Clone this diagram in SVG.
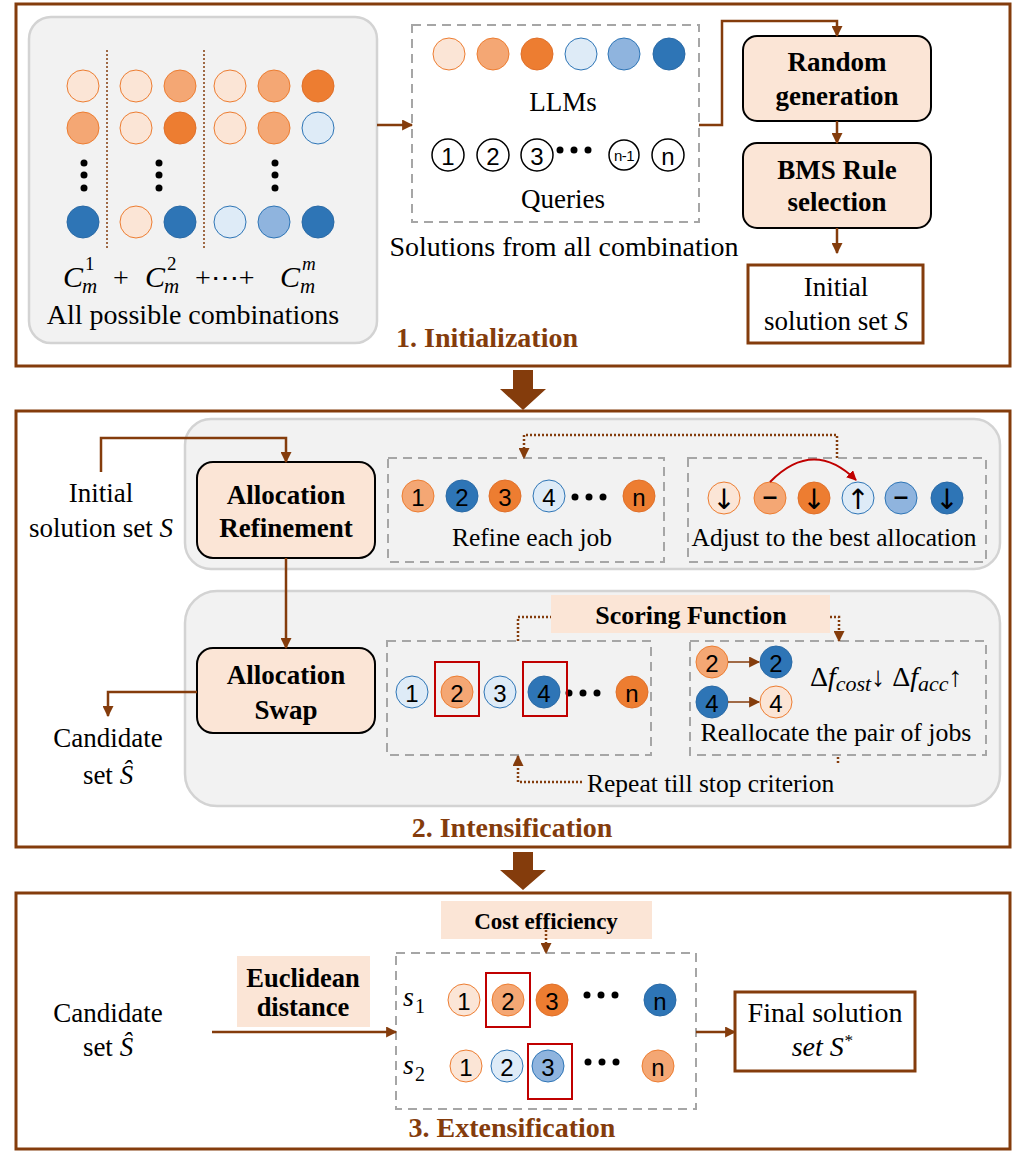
<svg xmlns="http://www.w3.org/2000/svg" width="1021" height="1153" viewBox="0 0 1021 1153">
<style>
.panel{fill:#fff;stroke:#843C0C;stroke-width:3}
.gray{fill:#F2F2F2;stroke:#D3D3D3;stroke-width:2.5}
.dash{fill:none;stroke:#A6A6A6;stroke-width:2;stroke-dasharray:9,6}
.node{fill:#FBE5D6;stroke:#000;stroke-width:2}
.out{fill:#fff;stroke:#843C0C;stroke-width:3}
.lbl{fill:#FBE5D6;stroke:none}
.lo{fill:#FBE5D6;stroke:#ED7D31;stroke-width:1}
.mo{fill:#F4A774;stroke:#ED7D31;stroke-width:1}
.do{fill:#ED7D31;stroke:#E0702A;stroke-width:1}
.lb{fill:#DEEBF7;stroke:#2E75B6;stroke-width:1}
.mb{fill:#8FB4DE;stroke:#2E75B6;stroke-width:1}
.db{fill:#2E75B6;stroke:#2A6AA6;stroke-width:1}
.q{fill:#fff;stroke:#000;stroke-width:1.5}
.t{font-family:"Liberation Serif",serif;font-size:27px;fill:#000}
.tb{font-family:"Liberation Serif",serif;font-size:27px;font-weight:bold;fill:#000;text-anchor:middle}
.ti{font-family:"Liberation Serif",serif;font-style:italic}
.sec{font-family:"Liberation Serif",serif;font-size:28px;font-weight:bold;fill:#843C0C;text-anchor:middle}
.d{font-family:"Liberation Sans",sans-serif;font-size:24px;fill:#000;text-anchor:middle;dominant-baseline:central}
.sym{font-family:"DejaVu Sans",sans-serif;font-size:28px;fill:#000;text-anchor:middle;dominant-baseline:central}
.dsh{font-family:"Liberation Sans",sans-serif;font-size:26px;font-weight:bold;fill:#000;text-anchor:middle;dominant-baseline:central}
.c{text-anchor:middle}
.br{fill:none;stroke:#843C0C;stroke-width:2.5}
.dot{fill:none;stroke:#843C0C;stroke-width:2.5;stroke-dasharray:2,2}
.blk{fill:#000}
.red{fill:none;stroke:#C00000;stroke-width:2}
</style>
<defs>
<marker id="ah" viewBox="0 0 10 10" markerWidth="11" markerHeight="11" markerUnits="userSpaceOnUse" refX="9" refY="5" orient="auto"><path d="M0,0 L10,5 L0,10 z" fill="#843C0C"/></marker>
<marker id="ahr" viewBox="0 0 10 10" markerWidth="10" markerHeight="10" markerUnits="userSpaceOnUse" refX="9" refY="5" orient="auto"><path d="M0,0 L10,5 L0,10 z" fill="#C00000"/></marker>
</defs>

<!-- Panels -->
<g id="panel1"><rect class="panel" x="16" y="4" width="994" height="362"/><text class="sec" x="487" y="347">1. Initialization</text></g>
<g id="panel2"><rect class="panel" x="16" y="411" width="994" height="436"/><text class="sec" x="512" y="837">2. Intensification</text></g>
<g id="panel3"><rect class="panel" x="16" y="893" width="994" height="256"/><text class="sec" x="512" y="1137">3. Extensification</text></g>

<!-- big arrows -->
<g id="bigarrows" fill="#843C0C">
<path d="M513,370 H533 V389 H546 L523,410 L500,389 H513 Z"/>
<path d="M513,852 H533 V870 H546 L523,890 L500,870 H513 Z"/>
</g>

<!-- Combinations -->
<g id="combinations">
<rect class="gray" x="29" y="17" width="348" height="326" rx="22"/>
<line x1="107" y1="50" x2="107" y2="248" stroke="#843C0C" stroke-width="1.5" stroke-dasharray="2,2"/>
<line x1="204" y1="50" x2="204" y2="248" stroke="#843C0C" stroke-width="1.5" stroke-dasharray="2,2"/>
<circle class="lo" cx="83" cy="86" r="16"/><circle class="lo" cx="136" cy="86" r="16"/><circle class="mo" cx="180" cy="86" r="16"/>
<circle class="lo" cx="230" cy="86" r="16"/><circle class="mo" cx="274" cy="86" r="16"/><circle class="do" cx="318" cy="86" r="16"/>
<circle class="mo" cx="83" cy="128" r="16"/><circle class="lo" cx="136" cy="128" r="16"/><circle class="do" cx="180" cy="128" r="16"/>
<circle class="lo" cx="230" cy="128" r="16"/><circle class="mo" cx="274" cy="128" r="16"/><circle class="lb" cx="318" cy="128" r="16"/>
<circle class="db" cx="83" cy="222" r="16"/><circle class="lo" cx="136" cy="222" r="16"/><circle class="db" cx="180" cy="222" r="16"/>
<circle class="lb" cx="230" cy="222" r="16"/><circle class="mb" cx="274" cy="222" r="16"/><circle class="db" cx="318" cy="222" r="16"/>
<g class="blk"><circle cx="84" cy="163" r="3.5"/><circle cx="84" cy="175" r="3.5"/><circle cx="84" cy="188" r="3.5"/>
<circle cx="159" cy="163" r="3.5"/><circle cx="159" cy="175" r="3.5"/><circle cx="159" cy="188" r="3.5"/>
<circle cx="275" cy="163" r="3.5"/><circle cx="275" cy="175" r="3.5"/><circle cx="275" cy="188" r="3.5"/></g>
<text class="t ti" x="63" y="287" style="font-size:30px">C</text><text class="t" x="85" y="270" style="font-size:19px">1</text><text class="t ti" x="82" y="293" style="font-size:21px">m</text>
<text class="t" x="113" y="287" style="font-size:28px">+</text>
<text class="t ti" x="145" y="287" style="font-size:30px">C</text><text class="t" x="167" y="270" style="font-size:19px">2</text><text class="t ti" x="164" y="293" style="font-size:21px">m</text>
<text class="t" x="195" y="287" style="font-size:28px">+⋯+</text>
<text class="t ti" x="280" y="287" style="font-size:30px">C</text><text class="t ti" x="302" y="270" style="font-size:19px">m</text><text class="t ti" x="300" y="293" style="font-size:21px">m</text>
<text class="t c" x="193" y="324" style="font-size:28px">All possible combinations</text>
</g>

<!-- Solutions -->
<g id="solutions">
<rect class="dash" x="412" y="25" width="287" height="197"/>
<circle class="lo" cx="449" cy="54" r="16"/><circle class="mo" cx="493" cy="54" r="16"/><circle class="do" cx="537" cy="54" r="16"/>
<circle class="lb" cx="581" cy="54" r="16"/><circle class="mb" cx="624" cy="54" r="16"/><circle class="db" cx="669" cy="54" r="16"/>
<text class="t c" x="563" y="111">LLMs</text>
<circle class="q" cx="448" cy="155" r="16"/><text class="d" x="448" y="156">1</text>
<circle class="q" cx="493" cy="155" r="16"/><text class="d" x="493" y="156">2</text>
<circle class="q" cx="537" cy="155" r="16"/><text class="d" x="537" y="156">3</text>
<g class="blk"><circle cx="560" cy="150" r="3.5"/><circle cx="574" cy="150" r="3.5"/><circle cx="588" cy="150" r="3.5"/></g>
<circle class="q" cx="624" cy="155" r="15"/><text class="d" x="624" y="155" style="font-size:15px" letter-spacing="-0.5">n-1</text>
<circle class="q" cx="668" cy="155" r="16"/><text class="d" x="668" y="156">n</text>
<text class="t c" x="563" y="208">Queries</text>
<text class="t c" x="564" y="256" style="font-size:28px">Solutions from all combination</text>
</g>

<g id="random"><rect class="node" x="743" y="36" width="188" height="85" rx="14"/><text class="tb" x="837" y="71">Random</text><text class="tb" x="837" y="105">generation</text></g>
<g id="bms"><rect class="node" x="743" y="143" width="188" height="85" rx="14"/><text class="tb" x="837" y="179">BMS Rule</text><text class="tb" x="837" y="211">selection</text></g>
<g id="initial"><rect class="out" x="748" y="265" width="175" height="78"/><text class="t c" x="836" y="296">Initial</text><text class="t c" x="836" y="330">solution set <tspan class="ti">S</tspan></text></g>

<!-- Panel 2 -->
<g id="refineArea"><rect class="gray" x="185" y="419" width="815" height="150" rx="26"/></g>
<g id="swapArea"><rect class="gray" x="185" y="591" width="815" height="215" rx="32"/></g>

<g id="initial2"><text class="t c" x="101" y="502">Initial</text><text class="t c" x="101" y="537">solution set <tspan class="ti">S</tspan></text></g>
<g id="refinement"><rect class="node" x="197" y="462" width="178" height="96" rx="16"/><text class="tb" x="286" y="504">Allocation</text><text class="tb" x="286" y="537">Refinement</text></g>
<g id="swap"><rect class="node" x="197" y="648" width="178" height="85" rx="16"/><text class="tb" x="286" y="684">Allocation</text><text class="tb" x="286" y="719">Swap</text></g>
<g id="candidate2"><text class="t c" x="108" y="747">Candidate</text><text class="t c" x="108" y="784">set <tspan class="ti">Ŝ</tspan></text></g>

<g id="refineJobs">
<rect class="dash" x="388" y="458" width="276" height="104"/>
<circle class="mo" cx="418" cy="496" r="16"/><text class="d" x="418" y="497">1</text>
<circle class="db" cx="462" cy="496" r="16"/><text class="d" x="462" y="497">2</text>
<circle class="do" cx="505" cy="496" r="16"/><text class="d" x="505" y="497">3</text>
<circle class="lb" cx="549" cy="496" r="16"/><text class="d" x="549" y="497">4</text>
<g class="blk"><circle cx="575" cy="497" r="3.5"/><circle cx="589" cy="497" r="3.5"/><circle cx="603" cy="497" r="3.5"/></g>
<circle class="do" cx="639" cy="496" r="16"/><text class="d" x="639" y="497">n</text>
<text class="t c" x="532" y="546" style="font-size:25.5px">Refine each job</text>
</g>

<g id="adjust">
<rect class="dash" x="688" y="458" width="298" height="104"/>
<circle class="lo" cx="724" cy="498" r="16"/><text class="sym" x="724" y="499">↓</text>
<circle class="mo" cx="770" cy="498" r="16"/><text class="dsh" x="770" y="496">–</text>
<circle class="do" cx="814" cy="498" r="16"/><text class="sym" x="814" y="499">↓</text>
<circle class="lb" cx="858" cy="498" r="16"/><text class="sym" x="858" y="499">↑</text>
<circle class="mb" cx="901" cy="498" r="16"/><text class="dsh" x="901" y="496">–</text>
<circle class="db" cx="947" cy="498" r="16"/><text class="sym" x="947" y="499">↓</text>
<path class="red" d="M770,482 Q813,438 856,480" marker-end="url(#ahr)"/>
<text class="t c" x="834" y="546" style="font-size:25.4px">Adjust to the best allocation</text>
</g>

<g id="scoring"><rect class="lbl" x="551" y="595" width="279" height="38"/><text class="tb" x="691" y="624" style="font-size:26px">Scoring Function</text></g>

<g id="swapJobs">
<rect class="dash" x="387" y="641" width="264" height="114"/>
<circle class="lb" cx="412" cy="692" r="16"/><text class="d" x="412" y="693">1</text>
<circle class="mo" cx="457" cy="692" r="16"/><text class="d" x="457" y="693">2</text>
<circle class="lb" cx="500" cy="692" r="16"/><text class="d" x="500" y="693">3</text>
<circle class="db" cx="544" cy="692" r="16"/><text class="d" x="544" y="693">4</text>
<g class="blk"><circle cx="569" cy="693" r="3.5"/><circle cx="583" cy="693" r="3.5"/><circle cx="597" cy="693" r="3.5"/></g>
<circle class="do" cx="632" cy="692" r="16"/><text class="d" x="632" y="693">n</text>
<rect class="red" x="435" y="662" width="44" height="54"/>
<rect class="red" x="523" y="662" width="44" height="54"/>
</g>

<g id="reallocate">
<rect class="dash" x="690" y="641" width="296" height="114"/>
<circle class="mo" cx="712" cy="662" r="16"/><text class="d" x="712" y="663">2</text>
<circle class="db" cx="776" cy="662" r="16"/><text class="d" x="776" y="663">2</text>
<circle class="db" cx="712" cy="702" r="16"/><text class="d" x="712" y="703">4</text>
<circle class="lo" cx="776" cy="702" r="16"/><text class="d" x="776" y="703">4</text>
<line x1="728" y1="662" x2="759" y2="662" stroke="#843C0C" stroke-width="1.5" marker-end="url(#ah)"/>
<line x1="728" y1="702" x2="759" y2="702" stroke="#843C0C" stroke-width="1.5" marker-end="url(#ah)"/>
<text class="t" x="810" y="686" style="font-size:28px">Δ<tspan class="ti">f</tspan><tspan class="ti" style="font-size:22px" dy="5">cost</tspan><tspan dy="-5">↓ Δ</tspan><tspan class="ti">f</tspan><tspan class="ti" style="font-size:22px" dy="5">acc</tspan><tspan dy="-5">↑</tspan></text>
<text class="t c" x="836" y="741" style="font-size:25.8px">Reallocate the pair of jobs</text>
</g>
<g id="repeat"><text class="t" x="587" y="792" style="font-size:25.5px">Repeat till  stop criterion</text></g>

<!-- Panel 3 -->
<g id="candidate3"><text class="t c" x="108" y="1022">Candidate</text><text class="t c" x="108" y="1056">set <tspan class="ti">Ŝ</tspan></text></g>
<g id="euclid"><rect class="lbl" x="237" y="956" width="133" height="71"/><text class="tb" x="303" y="987" style="font-size:26.5px">Euclidean</text><text class="tb" x="303" y="1016" style="font-size:26.5px">distance</text></g>
<g id="costEff"><rect class="lbl" x="441" y="901" width="211" height="38"/><text class="tb" x="546" y="929" style="font-size:23px">Cost efficiency</text></g>
<g id="solutionsPair">
<rect class="dash" x="396" y="953" width="300" height="156"/>
<text class="t ti" x="403" y="1006" style="font-size:28px">s</text><text class="t" x="415" y="1013" style="font-size:20px">1</text>
<text class="t ti" x="403" y="1074" style="font-size:28px">s</text><text class="t" x="415" y="1081" style="font-size:20px">2</text>
<circle class="lo" cx="464" cy="1000" r="16"/><text class="d" x="464" y="1001">1</text>
<circle class="mo" cx="508" cy="1000" r="16"/><text class="d" x="508" y="1001">2</text>
<circle class="do" cx="552" cy="1000" r="16"/><text class="d" x="552" y="1001">3</text>
<g class="blk"><circle cx="587" cy="995" r="3.5"/><circle cx="601" cy="995" r="3.5"/><circle cx="615" cy="995" r="3.5"/></g>
<circle class="db" cx="660" cy="1000" r="16"/><text class="d" x="660" y="1001">n</text>
<rect class="red" x="486" y="973" width="44" height="54"/>
<circle class="lo" cx="466" cy="1066" r="16"/><text class="d" x="466" y="1067">1</text>
<circle class="lb" cx="507" cy="1066" r="16"/><text class="d" x="507" y="1067">2</text>
<circle class="mb" cx="548" cy="1066" r="16"/><text class="d" x="548" y="1067">3</text>
<g class="blk"><circle cx="588" cy="1062" r="3.5"/><circle cx="602" cy="1062" r="3.5"/><circle cx="616" cy="1062" r="3.5"/></g>
<circle class="mo" cx="658" cy="1066" r="16"/><text class="d" x="658" y="1067">n</text>
<rect class="red" x="528" y="1044" width="44" height="55"/>
</g>
<g id="final"><rect class="out" x="735" y="992" width="180" height="79"/><text class="t c" x="825" y="1022" style="font-size:28px">Final solution</text><text class="t c ti" x="822" y="1056" style="font-size:28px">set S<tspan style="font-size:17px" dy="-10">*</tspan></text></g>

<!-- Connectors -->
<g id="connectors">
<line class="br" x1="377" y1="125" x2="412" y2="125" marker-end="url(#ah)"/>
<polyline class="br" points="699,125 722,125 722,21 837,21 837,36" marker-end="url(#ah)"/>
<line class="br" x1="837" y1="121" x2="837" y2="143" marker-end="url(#ah)"/>
<line class="br" x1="837" y1="228" x2="837" y2="253" marker-end="url(#ah)"/>
<polyline class="br" points="101,472 101,438 286,438 286,462" marker-end="url(#ah)"/>
<line class="br" x1="286" y1="558" x2="286" y2="648" marker-end="url(#ah)"/>
<polyline class="br" points="197,692 108,692 108,716" marker-end="url(#ah)"/>
<polyline class="dot" points="837,458 837,435 524,435 524,458" marker-end="url(#ah)"/>
<polyline class="dot" points="518,641 518,617 551,617"/>
<polyline class="dot" points="830,617 839,617 839,641" marker-end="url(#ah)"/>
<line class="dot" x1="838" y1="757" x2="838" y2="763"/>
<polyline class="dot" points="582,782 518,782 518,756" marker-end="url(#ah)"/>
<line class="br" x1="212" y1="1032" x2="396" y2="1032" marker-end="url(#ah)"/>
<line class="dot" x1="546" y1="930" x2="546" y2="953" marker-end="url(#ah)"/>
<line class="br" x1="696" y1="1032" x2="735" y2="1032" marker-end="url(#ah)"/>
</g>
</svg>
